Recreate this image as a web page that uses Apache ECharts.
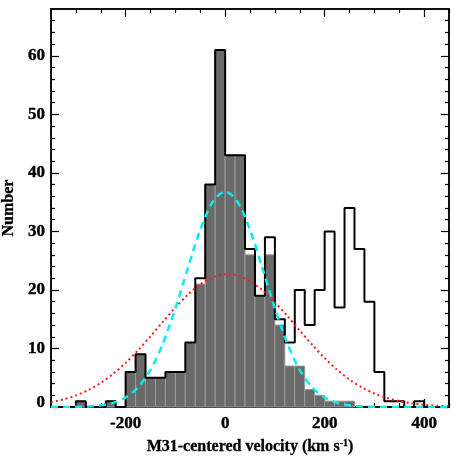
<!DOCTYPE html>
<html>
<head>
<meta charset="utf-8">
<script src="https://cdn.jsdelivr.net/npm/echarts@6/dist/echarts.min.js"></script>
<style>
html,body{margin:0;padding:0;background:#fff;}
#chart{width:458px;height:458px;}
</style>
</head>
<body>
<div id="chart"></div>
<script>
// ---- data ----
const binWidth = 20;
const binLeft = [-300,-280,-260,-240,-220,-200,-180,-160,-140,-120,-100,-80,-60,-40,-20,0,20,40,60,80,100,120,140,160,180,200,220,240,260,280,300,320,340,360,380];
const allCounts = [1,0,0,1,0,6,9,5,5,6,6,11,22,38,61,43,43,27,19,29,15,11,20,14,20,30,17,34,27,18,6,1,1,0,1];
const selCounts = [1,0,0,1,0,6,9,5,5,6,6,11,21,38,61,43,43,26,19,26,14,7,7,3,2,1,1,1,0,0,0,0,0,0,0];
const curveV = [-350,-325,-300,-275,-250,-225,-200,-175,-150,-125,-100,-75,-50,-25,0,25,50,75,100,125,150,175,200,225,250,275,300,325,350,375,400,425,450];
const cyanFit = [0,0.01,0.03,0.10,0.28,0.70,1.62,3.36,6.34,10.86,16.85,23.72,30.27,35.04,36.8,35.04,30.27,23.72,16.85,10.86,6.34,3.36,1.62,0.70,0.28,0.10,0.03,0.01,0,0,0,0,0];
const redFit = [0.83,1.30,1.97,2.90,4.12,5.66,7.53,9.70,12.08,14.57,17.00,19.19,20.97,22.17,22.69,22.46,21.52,19.96,17.91,15.55,13.07,10.63,8.36,6.37,4.70,3.35,2.31,1.55,1.00,0.63,0.38,0.22,0.13];
const xMajorTicks = [-200,0,200,400];
const xMinorTicks = [-300,-250,-150,-100,-50,50,100,150,250,300,350,450];
const yMajorTicks = [0,10,20,30,40,50,60];
const yMinorTicks = [2,4,6,8,12,14,16,18,22,24,26,28,32,34,36,38,42,44,46,48,52,54,56,58,62,64,66];
const xTitle = 'M31-centered velocity (km s{sup|-1})';
const yTitle = 'Number';

// ---- build ----
const FONT = '"Liberation Serif", "Times New Roman", serif';
const X_MIN = -350, X_MAX = 450, Y_MIN = 0, Y_MAX = 68;

const stepData = [[X_MIN, 0]];
binLeft.forEach((b, i) => stepData.push([b, allCounts[i]]));
stepData.push([binLeft[binLeft.length - 1] + binWidth, 0]);
stepData.push([X_MAX, 0]);

const barData = binLeft.map((b, i) => [b, b + binWidth, selCounts[i]]).filter(d => d[2] > 0);

const axisLineStyle = {color: '#000', width: 1.5};
const tickStyle = {color: '#000', width: 1.2};
const labelText = {color: '#000', fontFamily: FONT, fontWeight: 'bold', fontSize: 17,
  textBorderColor: '#000', textBorderWidth: 0.4};

function xAx(pos, ticks, len, labels, extra) {
  return Object.assign({
    type: 'value', gridIndex: 0, position: pos, min: X_MIN, max: X_MAX,
    axisLine: {show: true, onZero: false, lineStyle: axisLineStyle},
    axisTick: {show: true, inside: true, length: len, customValues: ticks, lineStyle: tickStyle},
    axisLabel: labels ? Object.assign({show: true, customValues: ticks, margin: 8}, labelText) : {show: false},
    splitLine: {show: false}
  }, extra || {});
}
function yAx(pos, ticks, len, labels, extra) {
  return Object.assign({
    type: 'value', gridIndex: 0, position: pos, min: Y_MIN, max: Y_MAX,
    axisLine: {show: true, onZero: false, lineStyle: axisLineStyle},
    axisTick: {show: true, inside: true, length: len, customValues: ticks, lineStyle: tickStyle},
    axisLabel: labels ? Object.assign({show: true, customValues: ticks, margin: 6,
      formatter: v => v === 0 ? '{z|0}' : String(v),
      rich: {z: Object.assign({padding: [0, 0, 8, 0]}, labelText)}}, labelText) : {show: false},
    splitLine: {show: false}
  }, extra || {});
}

const chart = echarts.init(document.getElementById('chart'), null, {renderer: 'canvas'});
chart.setOption({
  animation: false,
  backgroundColor: '#fff',
  grid: {left: 51, right: 9, top: 9, bottom: 51, containLabel: false, outerBoundsMode: 'none'},
  xAxis: [
    xAx('bottom', xMajorTicks, 8, true, {
      name: xTitle, nameLocation: 'middle', nameGap: 31,
      nameTextStyle: {color: '#000', fontFamily: FONT, fontWeight: 'bold', fontSize: 16,
        textBorderColor: '#000', textBorderWidth: 0.3,
        rich: {sup: {fontFamily: FONT, fontWeight: 'bold', fontSize: 10, color: '#000', verticalAlign: 'top', lineHeight: 18}}}
    }),
    xAx('bottom', xMinorTicks, 4, false),
    xAx('top', xMajorTicks, 8, false),
    xAx('top', xMinorTicks, 4, false)
  ],
  yAxis: [
    yAx('left', yMajorTicks, 8, true, {
      name: yTitle, nameLocation: 'middle', nameGap: 33,
      nameTextStyle: {color: '#000', fontFamily: FONT, fontWeight: 'bold', fontSize: 16,
        textBorderColor: '#000', textBorderWidth: 0.3}
    }),
    yAx('left', yMinorTicks, 4, false),
    yAx('right', yMajorTicks, 8, false),
    yAx('right', yMinorTicks, 4, false)
  ],
  series: [
    {
      type: 'custom', xAxisIndex: 0, yAxisIndex: 0, z: 1,
      data: barData,
      encode: {x: [0, 1], y: 2},
      renderItem: function (params, api) {
        const p0 = api.coord([api.value(0), api.value(2)]);
        const p1 = api.coord([api.value(1), 0]);
        return {
          type: 'rect',
          shape: {x: p0[0], y: p0[1], width: p1[0] - p0[0], height: p1[1] - p0[1]},
          style: {fill: '#6a6a6a', stroke: '#9a9a9a', lineWidth: 1}
        };
      }
    },
    {
      type: 'line', xAxisIndex: 0, yAxisIndex: 0, z: 3,
      data: stepData, step: 'end', symbol: 'none',
      lineStyle: {color: '#000', width: 2}
    },
    {
      type: 'line', xAxisIndex: 0, yAxisIndex: 0, z: 4,
      data: curveV.map((v, i) => [v, redFit[i]]), smooth: 0.3, symbol: 'none',
      lineStyle: {color: '#ff1a1a', width: 2, type: [2, 3]}
    },
    {
      type: 'line', xAxisIndex: 0, yAxisIndex: 0, z: 5,
      data: curveV.map((v, i) => [v, cyanFit[i]]), smooth: 0.3, symbol: 'none',
      lineStyle: {color: '#00f0f0', width: 2.5, type: [7, 5]}
    }
  ]
});
</script>
</body>
</html>
